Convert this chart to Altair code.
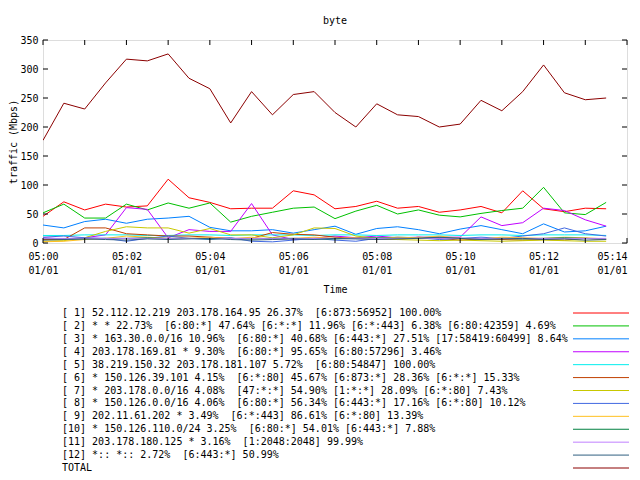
import altair as alt
import pandas as pd

TITLE = "byte"
Y_TITLE = "traffic (Mbps)"
X_TITLE = "Time"

TIMES = ["05:00:00", "05:00:30", "05:01:00", "05:01:30", "05:02:00", "05:02:30",
         "05:03:00", "05:03:30", "05:04:00", "05:04:30", "05:05:00", "05:05:30",
         "05:06:00", "05:06:30", "05:07:00", "05:07:30", "05:08:00", "05:08:30",
         "05:09:00", "05:09:30", "05:10:00", "05:10:30", "05:11:00", "05:11:30",
         "05:12:00", "05:12:30", "05:13:00", "05:13:30"]

S1 = [46, 71, 57, 67, 62, 64, 110, 78, 70, 59, 60, 60, 90, 83, 59, 63, 72, 60, 63, 53, 57, 63, 52, 90, 59, 54, 60, 59]
S2 = [52, 67, 43, 43, 67, 57, 69, 60, 69, 36, 46, 53, 60, 62, 42, 55, 65, 50, 57, 48, 45, 51, 56, 60, 96, 52, 49, 70]
S3 = [31, 26, 37, 41, 34, 41, 43, 46, 27, 21, 21, 23, 17, 23, 29, 15, 25, 28, 23, 16, 24, 30, 23, 16, 33, 19, 21, 29]
S4 = [9, 7, 9, 14, 61, 58, 9, 23, 20, 20, 68, 14, 6, 8, 12, 9, 12, 9, 10, 10, 10, 45, 30, 35, 60, 56, 40, 29]
S5 = [13, 13, 14, 14, 14, 13, 13, 14, 14, 13, 14, 14, 14, 13, 14, 14, 13, 14, 14, 14, 13, 14, 14, 13, 14, 14, 14, 13]
S6 = [6, 6, 26, 26, 16, 14, 12, 12, 10, 8, 8, 18, 15, 14, 10, 8, 7, 6, 10, 8, 5, 7, 6, 5, 6, 5, 8, 6]
S7 = [3, 4, 9, 20, 28, 26, 26, 17, 25, 14, 14, 9, 14, 26, 25, 12, 8, 6, 5, 4, 5, 4, 3, 4, 5, 4, 3, 3]
S8 = [10, 12, 9, 8, 3, 8, 12, 8, 6, 9, 3, 2, 5, 8, 5, 3, 8, 10, 9, 6, 8, 10, 8, 12, 16, 26, 16, 12]
S9 = [2, 3, 6, 8, 12, 10, 8, 8, 10, 7, 10, 6, 8, 10, 8, 9, 8, 10, 9, 12, 8, 7, 10, 9, 8, 10, 9, 7]
S10 = [8, 7, 7, 8, 8, 9, 8, 8, 7, 8, 7, 8, 8, 7, 7, 8, 9, 8, 8, 9, 8, 7, 8, 7, 8, 9, 8, 7]
S11 = [8, 8, 8, 8, 8, 8, 8, 8, 8, 8, 8, 8, 8, 8, 8, 8, 8, 8, 8, 8, 8, 8, 8, 8, 8, 8, 8, 8]
S12 = [5, 6, 7, 6, 5, 7, 6, 7, 8, 6, 5, 6, 7, 6, 8, 7, 6, 7, 8, 10, 8, 6, 7, 8, 6, 7, 5, 6]
TOTAL = [177, 241, 231, 276, 317, 314, 326, 284, 266, 207, 261, 221, 256, 261, 225, 200, 240, 221, 218, 200, 205, 246, 228, 261, 307, 259, 247, 250]

LABELS = [
    "[ 1] 52.112.12.219 203.178.164.95 26.37%  [6:873:56952] 100.00%",
    "[ 2] * * 22.73%  [6:80:*] 47.64% [6:*:*] 11.96% [6:*:443] 6.38% [6:80:42359] 4.69%",
    "[ 3] * 163.30.0.0/16 10.96%  [6:80:*] 40.68% [6:443:*] 27.51% [17:58419:60499] 8.64%",
    "[ 4] 203.178.169.81 * 9.30%  [6:80:*] 95.65% [6:80:57296] 3.46%",
    "[ 5] 38.219.150.32 203.178.181.107 5.72%  [6:80:54847] 100.00%",
    "[ 6] * 150.126.39.101 4.15%  [6:*:80] 45.67% [6:873:*] 28.36% [6:*:*] 15.33%",
    "[ 7] * 203.178.0.0/16 4.08%  [47:*:*] 54.90% [1:*:*] 28.09% [6:*:80] 7.43%",
    "[ 8] * 150.126.0.0/16 4.06%  [6:80:*] 56.34% [6:443:*] 17.16% [6:*:80] 10.12%",
    "[ 9] 202.11.61.202 * 3.49%  [6:*:443] 86.61% [6:*:80] 13.39%",
    "[10] * 150.126.110.0/24 3.25%  [6:80:*] 54.01% [6:443:*] 7.88%",
    "[11] 203.178.180.125 * 3.16%  [1:2048:2048] 99.99%",
    "[12] *:: *:: 2.72%  [6:443:*] 50.99%",
    "TOTAL",
]
COLORS = ["#ff0000", "#00c000", "#0080ff", "#c000ff", "#00eeee", "#c04000",
          "#c8c800", "#4169e1", "#ffc020", "#008040", "#c080ff", "#306080", "#8b0000"]

Y_TICKS = [0, 50, 100, 150, 200, 250, 300, 350]
X_TICK_MINUTES = list(range(0, 15))
X_LABEL_MINUTES = [0, 2, 4, 6, 8, 10, 12, 14]
DAY = "2024-01-01"

FONT = "DejaVu Sans Mono"
W, H = 584, 203

SERIES = [S1, S2, S3, S4, S5, S6, S7, S8, S9, S10, S11, S12, TOTAL]
rows = []
for k, (lab, vals) in enumerate(zip(LABELS, SERIES)):
    for t, v in zip(TIMES, vals):
        rows.append({"time": f"{DAY}T{t}", "value": v, "series": lab, "k": k})
df = pd.DataFrame(rows)

ticks_x = pd.DataFrame({"time": [f"{DAY}T05:{m:02d}:00" for m in X_TICK_MINUTES]})
ticks_y = pd.DataFrame({"value": Y_TICKS})
legend_df = pd.DataFrame({"row": list(range(len(LABELS))),
                          "series": LABELS,
                          "text": [s.replace("  ", " \u00a0") for s in LABELS]})

x_scale = alt.Scale(domain=[alt.DateTime(year=2024, month=1, date=1, hours=5, minutes=0),
                            alt.DateTime(year=2024, month=1, date=1, hours=5, minutes=14)], nice=False)
y_scale = alt.Scale(domain=[0, 350], nice=False)

x_axis = alt.Axis(
    values=[alt.DateTime(year=2024, month=1, date=1, hours=5, minutes=m) for m in X_LABEL_MINUTES],
    labelExpr="[timeFormat(datum.value, '%H:%M'), timeFormat(datum.value, '%m/%d')]",
    labelAlign={"condition": {"test": "minutes(datum.value) == 14", "value": "right"}, "value": "center"},
    ticks=False, domain=False, grid=False, labelAngle=0, labelFlush=False, labelOverlap=False,
    labelFont=FONT, labelFontSize=10, labelColor="black", labelPadding=8, labelLineHeight=14,
    title=X_TITLE, titleFont=FONT, titleFontSize=10, titleFontWeight="normal", titleColor="black",
    titlePadding=9)
y_axis = alt.Axis(
    values=Y_TICKS, ticks=False, domain=False, grid=False,
    labelFont=FONT, labelFontSize=10, labelColor="black", labelPadding=5,
    title=Y_TITLE, titleFont=FONT, titleFontSize=10, titleFontWeight="normal", titleColor="black",
    titlePadding=1)

X = alt.X("time:T", scale=x_scale, axis=x_axis)
color = alt.Color("series:N", scale=alt.Scale(domain=LABELS, range=COLORS), legend=None)

lines = alt.Chart(df).mark_line(strokeWidth=1, clip=True).encode(
    x=X, y=alt.Y("value:Q", scale=y_scale, axis=y_axis), color=color, order="k:Q")

tick_top = alt.Chart(ticks_x).mark_rule(color="black", strokeWidth=1).encode(
    x=X, y=alt.value(0), y2=alt.value(5))
tick_bot = alt.Chart(ticks_x).mark_rule(color="black", strokeWidth=1).encode(
    x=X, y=alt.value(H - 5), y2=alt.value(H))
tick_left = alt.Chart(ticks_y).mark_rule(color="black", strokeWidth=1).encode(
    y=alt.Y("value:Q", scale=y_scale, axis=None), x=alt.value(0), x2=alt.value(5))
tick_right = alt.Chart(ticks_y).mark_rule(color="black", strokeWidth=1).encode(
    y=alt.Y("value:Q", scale=y_scale, axis=None), x=alt.value(W - 5), x2=alt.value(W))

leg_y = alt.Y("row:Q", scale=alt.Scale(domain=[0, 12], range=[273, 428]), axis=None)
leg_text = alt.Chart(legend_df).mark_text(
    align="left", baseline="middle", font=FONT, fontSize=10, color="black").encode(
    x=alt.value(19), y=leg_y, text="text:N")
leg_rule = alt.Chart(legend_df).mark_rule(strokeWidth=1).encode(
    x=alt.value(530), x2=alt.value(586), y=leg_y, color=color)

chart = alt.layer(lines, tick_top, tick_bot, tick_left, tick_right, leg_text, leg_rule).resolve_scale(
    y="independent").properties(
    width=W, height=H,
    title=alt.TitleParams(TITLE, font=FONT, fontSize=10, fontWeight="normal", color="black",
                          anchor="middle", offset=9),
    autosize=alt.AutoSizeParams(type="none"),
    padding={"left": 35, "top": 32, "right": 5, "bottom": 229},
).configure_view(stroke="black", strokeWidth=1).configure(background="white")

chart.save("out.html", embed_options={"renderer": "svg", "actions": False})
